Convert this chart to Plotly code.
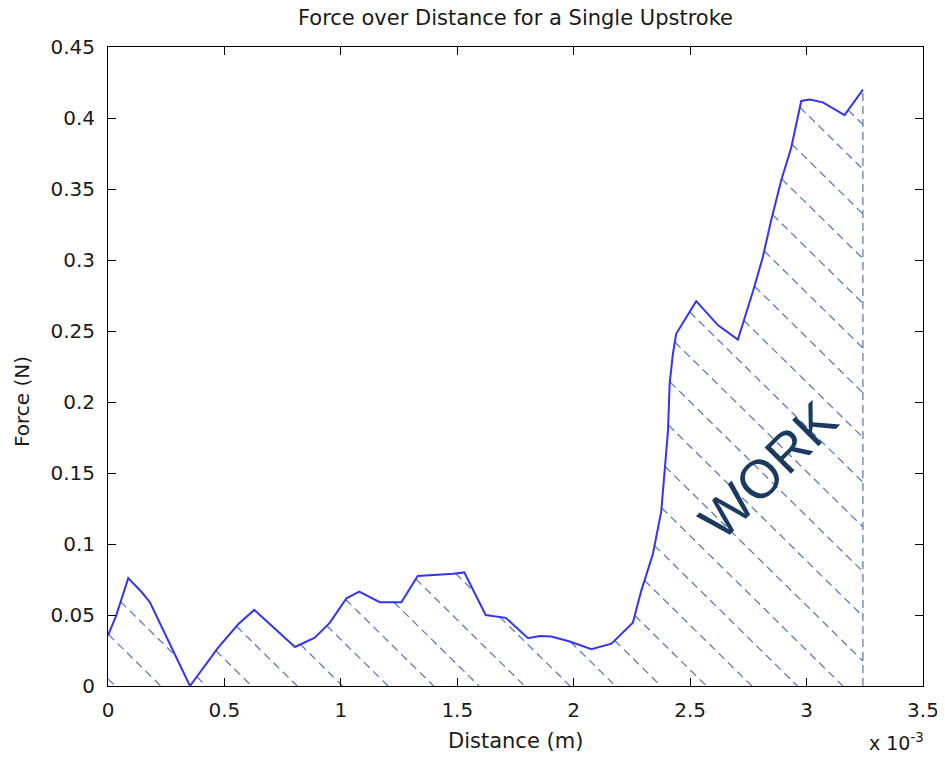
import numpy as np
import plotly.graph_objects as go

# ---- data (distance in units of 1e-3 m, force in N) ----
distance = [0, 0.034, 0.087, 0.145, 0.18, 0.352, 0.473, 0.559, 0.628, 0.803, 0.888,
            0.953, 1.024, 1.079, 1.167, 1.26, 1.33, 1.389, 1.482, 1.53, 1.622, 1.708,
            1.804, 1.854, 1.904, 1.983, 2.076, 2.162, 2.254, 2.29, 2.34, 2.376, 2.405,
            2.412, 2.426, 2.44, 2.526, 2.62, 2.705, 2.77, 2.812, 2.848, 2.891, 2.934,
            2.977, 3.013, 3.07, 3.163, 3.242]
force = [0.0357, 0.049, 0.076, 0.066, 0.059, 0.0, 0.027, 0.0435, 0.0536, 0.0275, 0.034,
         0.0446, 0.0618, 0.0665, 0.059, 0.059, 0.0775, 0.078, 0.079, 0.080, 0.050, 0.048,
         0.0336, 0.0352, 0.0348, 0.0313, 0.0259, 0.0298, 0.0446, 0.067, 0.093, 0.123, 0.18,
         0.213, 0.234, 0.248, 0.271, 0.254, 0.244, 0.278, 0.302, 0.328, 0.356, 0.379,
         0.412, 0.413, 0.411, 0.402, 0.420]

x_ticks = [0, 0.5, 1, 1.5, 2, 2.5, 3, 3.5]
x_ticklabels = ["0", "0.5", "1", "1.5", "2", "2.5", "3", "3.5"]
y_ticks = [0, 0.05, 0.1, 0.15, 0.2, 0.25, 0.3, 0.35, 0.4, 0.45]
y_ticklabels = ["0", "0.05", "0.1", "0.15", "0.2", "0.25", "0.3", "0.35", "0.4", "0.45"]

title_text = "Force over Distance for a Single Upstroke"
x_label = "Distance (m)"
y_label = "Force (N)"
annotation_text = "WORK"

# ---- layout constants (page body has an 8px default margin) ----
W, H = 937, 747
ML, MR, MT, MB = 100, 22, 39, 69
X_RANGE = [0, 3.5]
Y_RANGE = [0, 0.45]
PW, PH = W - ML - MR, H - MT - MB
px_per_x = PW / (X_RANGE[1] - X_RANGE[0])
px_per_y = PH / (Y_RANGE[1] - Y_RANGE[0])

# ---- hatch geometry (computed from the data polygon) ----
HATCH_SLOPE_PX = 0.983     # screen slope of hatch lines (down-right)
HATCH_GAP_PX = 44.7        # vertical spacing in px
HATCH_PHASE_PX = 25        # height of lowest hatch line at right edge (px)
m = HATCH_SLOPE_PX * px_per_x / px_per_y
gap_y = HATCH_GAP_PX / px_per_y
x_end = distance[-1]
b0 = HATCH_PHASE_PX / px_per_y + m * x_end

xs = np.linspace(distance[0], distance[-1], 40001)
fs = np.interp(xs, distance, force)
hx, hy = [], []
for k in range(-30, 40):
    b = b0 + k * gap_y
    line = b - m * xs
    inside = (line >= 0) & (line <= fs)
    if not inside.any():
        continue
    idx = np.flatnonzero(inside)
    breaks = np.flatnonzero(np.diff(idx) > 1)
    starts = np.concatenate([[idx[0]], idx[breaks + 1]])
    ends = np.concatenate([idx[breaks], [idx[-1]]])
    for s, e in zip(starts, ends):
        if e - s < 2:
            continue
        hx += [xs[s], xs[e], None]
        hy += [b - m * xs[s], b - m * xs[e], None]
# right closing edge of the hatched patch
hx += [x_end, x_end, None]
hy += [0, force[-1], None]

HATCH_COLOR = "#5274b8"
LINE_COLOR = "#3535ee"
FONT = "DejaVu Sans"
TXT = "#1a1a1a"

fig = go.Figure()
fig.add_trace(go.Scatter(x=hx, y=hy, mode="lines", hoverinfo="skip",
                         line=dict(color=HATCH_COLOR, width=1.2, dash="8px,5px"),
                         showlegend=False))
fig.add_trace(go.Scatter(x=distance, y=force, mode="lines",
                         line=dict(color=LINE_COLOR, width=2), showlegend=False))

axis_common = dict(showgrid=False, zeroline=False, showline=True, mirror="ticks",
                   linecolor="black", linewidth=1, ticks="inside", ticklen=8,
                   tickcolor="black", tickwidth=1, automargin=False,
                   tickfont=dict(family=FONT, size=20, color=TXT))
fig.update_xaxes(range=X_RANGE, tickvals=x_ticks, ticktext=x_ticklabels,
                 ticklabelstandoff=6, **axis_common)
fig.update_yaxes(range=Y_RANGE, tickvals=y_ticks, ticktext=y_ticklabels,
                 ticklabelstandoff=8, **axis_common)

fig.update_layout(
    width=W, height=H,
    margin=dict(l=ML, r=MR, t=MT, b=MB, autoexpand=False),
    paper_bgcolor="white", plot_bgcolor="white",
    title=dict(text=title_text, x=0.5, xref="paper", xanchor="center",
               y=1 - 10 / H, yref="container", yanchor="middle",
               font=dict(family=FONT, size=21, color=TXT)),
    annotations=[
        dict(text=x_label, xref="paper", yref="paper", x=0.5, y=-(741 - 686) / PH,
             xanchor="center", yanchor="middle", showarrow=False,
             font=dict(family=FONT, size=21, color=TXT)),
        dict(text=y_label, xref="paper", yref="paper", x=-(108 - 22) / PW,
             y=(686 - 402) / PH, xanchor="center", yanchor="middle",
             textangle=-90, showarrow=False,
             font=dict(family=FONT, size=20, color=TXT)),
        dict(text="x 10<sup>-3</sup>", xref="paper", yref="paper",
             x=(926 - 108) / PW, y=-(742 - 686) / PH, xanchor="right",
             yanchor="middle", showarrow=False,
             font=dict(family=FONT, size=19, color=TXT)),
        dict(text=annotation_text, xref="x", yref="y", x=2.834, y=0.152,
             xanchor="center", yanchor="middle", textangle=-45, showarrow=False,
             font=dict(family="Liberation Sans", size=54, color="#1b3a5e")),
    ],
)

fig.write_html("out.html")
